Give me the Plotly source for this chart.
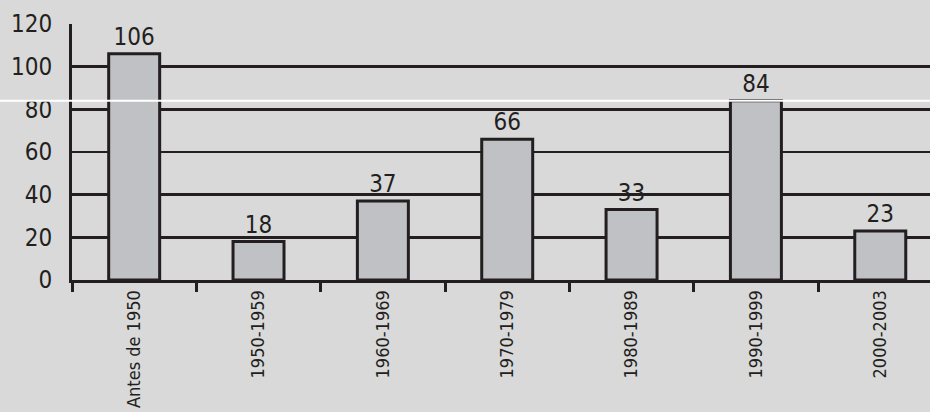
import plotly.graph_objects as go

categories = ["Antes de 1950", "1950-1959", "1960-1969", "1970-1979", "1980-1989", "1990-1999", "2000-2003"]
values = [106, 18, 37, 66, 33, 84, 23]
y_ticks = [0, 20, 40, 60, 80, 100, 120]

dark = "#231f20"
bg = "#d9d9d9"
FONT = "Liberation Sans Narrow, DejaVu Sans Condensed, Noto Sans, sans-serif"

x_pos = list(range(len(categories)))

fig = go.Figure()
fig.add_trace(go.Bar(
    x=x_pos, y=values, width=0.41,
    marker=dict(color="#c0c1c5", line=dict(color=dark, width=3)),
    text=[str(v) for v in values], textposition="outside",
    textfont=dict(size=24, color=dark, family=FONT),
    cliponaxis=False, hoverinfo="skip",
))

fig.update_layout(
    width=930, height=412,
    margin=dict(l=72, r=0, t=24, b=132),
    paper_bgcolor=bg, plot_bgcolor=bg,
    showlegend=False,
    font=dict(family=FONT, color=dark),
    xaxis=dict(
        range=[-0.5, 6.4], tickmode="array", tickvals=x_pos, ticktext=categories,
        tickangle=-90, ticks="", tickfont=dict(size=18, family=FONT, color=dark),
        showgrid=False, zeroline=False, automargin=False,
        showline=True, linecolor=dark, linewidth=3,
        minor=dict(tickmode="linear", tick0=-0.5, dtick=1, ticks="outside",
                   ticklen=9, tickwidth=3, tickcolor=dark, showgrid=False),
    ),
    yaxis=dict(
        range=[0, 120], tickmode="array", tickvals=y_ticks,
        tickfont=dict(size=24, family=FONT, color=dark),
        showgrid=True, gridcolor=dark, gridwidth=2.5, automargin=False,
        zeroline=False, showline=True, linecolor=dark, linewidth=3,
        ticks="", ticklabelstandoff=12,
    ),
    shapes=[dict(type="line", xref="paper", yref="y", x0=-0.1, x1=1.01, y0=84, y1=84,
                 line=dict(color="white", width=2), layer="above")],
)

fig.write_html(
    "out.html",
    config={"displayModeBar": False, "staticPlot": True},
    post_script="document.body.style.margin='0px';document.body.style.background='#d9d9d9';",
)
